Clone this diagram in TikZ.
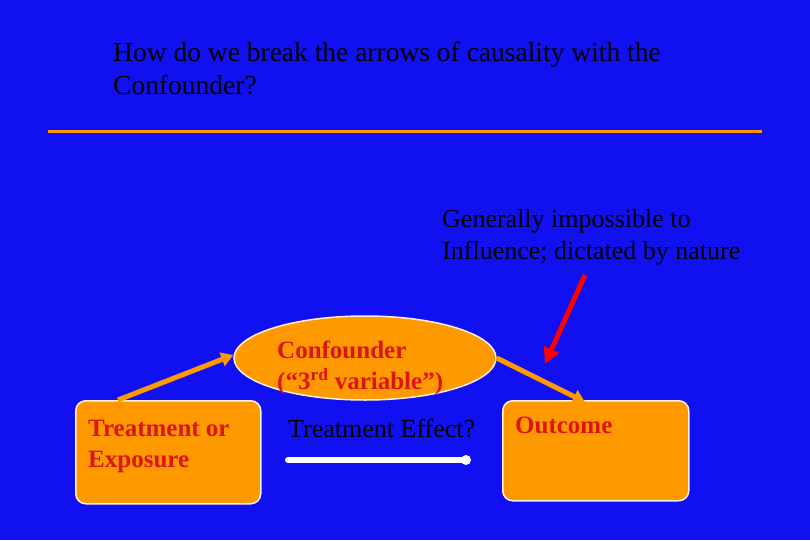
\documentclass[tikz,border=0pt]{standalone}
\usepackage{fontspec}
\setmainfont{Liberation Serif}
\usetikzlibrary{shapes.geometric,arrows.meta}
\definecolor{bg}{RGB}{16,16,240}
\definecolor{org}{RGB}{255,153,0}
\definecolor{rtx}{RGB}{220,20,20}
\tikzset{
 txt/.style={anchor=north west,inner sep=0,align=left,font=\fontsize{26}{32}\selectfont},
 rtxt/.style={txt,text=rtx,font=\fontsize{25}{31}\selectfont\bfseries},
 box/.style={draw=white!85!org,line width=1.5pt,fill=org,rounded corners=10pt},
 oarr/.style={draw=org,line width=5pt,-{Triangle[length=12pt,width=14pt]}}
}
\begin{document}
\begin{tikzpicture}[x=1pt,y=-1pt]
\fill[bg] (0,0) rectangle (810,540);
\useasboundingbox (0,0) rectangle (810,540);
\node[txt,font=\fontsize{27.5}{33}\selectfont] (title) at (113,42) {How do we break the arrows of causality with the\\Confounder?};
\coordinate (l1) at (48,132); \coordinate (l2) at (762,132);
\draw[org,line width=3pt] (l1) -- (l2);
\node[txt] (gen) at (442,209) {Generally impossible to\\Influence; dictated by nature};
\coordinate (ra) at (585,275); \coordinate (rb) at (545,364);
\draw[red,line width=5pt,-{Triangle[length=16pt,width=16pt]}] (ra) -- (rb);
\node[ellipse,draw=white!85!org,line width=1.5pt,fill=org,minimum width=262pt,minimum height=84pt] (conf) at (365,358) {};
\node[rtxt] (ct) at (277,341) {Confounder\\(“3\textsuperscript{rd} variable”)};
\node[box,minimum width=185pt,minimum height=103pt,anchor=north west] (tb) at (75,400) {};
\node[rtxt] (tt) at (88,420) {Treatment or\\Exposure};
\node[box,minimum width=186pt,minimum height=100pt,anchor=north west] (ob) at (502,400) {};
\node[rtxt] (ot) at (515,417) {Outcome};
\draw[oarr] (tb.north west) ++(43,0) coordinate (s1) -- (conf.west |- 0,355);
\draw[oarr] (conf.east) -- (585,402);
\node[txt] (te) at (288,419) {Treatment Effect?};
\coordinate (w1) at (288,460); \coordinate (w2) at (466,460);
\draw[white,line width=6pt,line cap=round] (w1) -- (w2);
\fill[white] (w2) circle (5pt);
\end{tikzpicture}
\end{document}
